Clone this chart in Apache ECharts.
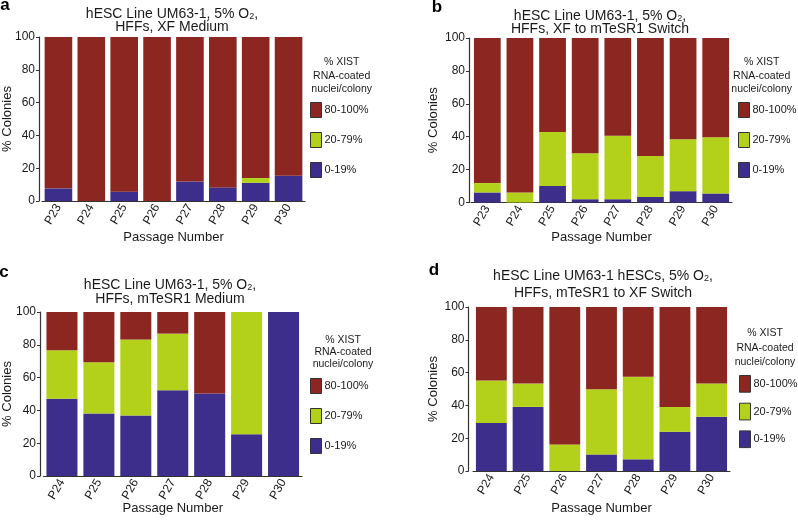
<!DOCTYPE html>
<html><head><meta charset="utf-8">
<script src="https://cdn.jsdelivr.net/npm/echarts@6/dist/echarts.min.js"></script>
<style>html,body{margin:0;padding:0;background:#fff}#c{width:798px;height:520px}</style>
</head><body><div id="c"></div>
<script>
// ---------- data ----------
const legendNames = ['80-100%', '20-79%', '0-19%'];
const yTicks = [0, 20, 40, 60, 80, 100];

const catsA = ['P23','P24','P25','P26','P27','P28','P29','P30'];
const lowA  = [7.7, 0, 5.7, 0, 11.9, 8.3, 11.1, 15.4];
const midA  = [0, 0, 0, 0, 0, 0, 2.9, 0];
const highA = [92.3, 100, 94.3, 100, 88.1, 91.7, 86.0, 84.6];

const catsB = ['P23','P24','P25','P26','P27','P28','P29','P30'];
const lowB  = [6.1, 0, 10.1, 2.0, 2.0, 3.4, 6.9, 5.5];
const midB  = [5.7, 6.1, 32.7, 28.0, 38.6, 24.8, 31.6, 34.1];
const highB = [88.2, 93.9, 57.2, 70.0, 59.4, 71.8, 61.5, 60.4];

const catsC = ['P24','P25','P26','P27','P28','P29','P30'];
const lowC  = [47.1, 38.1, 36.9, 52.3, 50.3, 25.4, 100];
const midC  = [29.6, 31.3, 46.3, 34.5, 0, 74.6, 0];
const highC = [23.3, 30.6, 16.8, 13.2, 49.7, 0, 0];

const catsD = ['P24','P25','P26','P27','P28','P29','P30'];
const lowD  = [29.2, 39.1, 0, 10.1, 7.1, 23.9, 33.1];
const midD  = [26.0, 14.2, 16.2, 39.8, 50.3, 15.2, 20.2];
const highD = [44.8, 46.7, 83.8, 50.1, 42.6, 60.9, 46.7];

const titlesA = ['hESC Line UM63-1, 5% O', 'HFFs, XF Medium'];
const titlesB = ['hESC Line UM63-1, 5% O', 'HFFs, XF to mTeSR1 Switch'];
const titlesC = ['hESC Line UM63-1, 5% O', 'HFFs, mTeSR1 Medium'];
const titlesD = ['hESC Line UM63-1 hESCs, 5% O', 'HFFs, mTeSR1 to XF Switch'];
const legendHead = ['% XIST', 'RNA-coated', 'nuclei/colony'];
const xName = 'Passage Number';
const yName = '% Colonies';

// ---------- style / layout ----------
const RED = '#8B2621', GREEN = '#B3D11A', BLUE = '#3D2E8B';
const FONT = "'Liberation Sans', Arial, Helvetica, sans-serif";
const TXT = '#1a1a1a';

const panels = [
  {letter:'a', cats:catsA, low:lowA, mid:midA, high:highA, titles:titlesA,
   grid:{left:42, top:37, width:263, height:164}, yOff:3, gap:'16%', xGap:30, yGap:25,
   letterPos:[5,5], titlePos:[172,13,27], legend:{left:310, top:102, h:15, g:14}, head:[341.7,[62,75.7,89]]},
  {letter:'b', cats:catsB, low:lowB, mid:midB, high:highB, titles:titlesB,
   grid:{left:471, top:38, width:261, height:164.5}, yOff:2, gap:'18%', xGap:28, yGap:29,
   letterPos:[437,7.5], titlePos:[600,15,29], legend:{left:738, top:102, h:15, g:14}, head:[761.7,[62,75.7,89]]},
  {letter:'c', cats:catsC, low:lowC, mid:midC, high:highC, titles:titlesC,
   grid:{left:43, top:312, width:259, height:164}, yOff:3.5, gap:'16%', xGap:26, yGap:26,
   letterPos:[4,272], titlePos:[170,284,299.3], legend:{left:310, top:378, h:15, g:14}, head:[343,[340,352,364.3]]},
  {letter:'d', cats:catsD, low:lowD, mid:midD, high:highD, titles:titlesD,
   grid:{left:473, top:307, width:257, height:164}, yOff:4.5, gap:'16%', xGap:31, yGap:29,
   letterPos:[434,270], titlePos:[603,275,293], legend:{left:739, top:375, h:16.7, g:10}, head:[765,[332.7,348,362]]}
];

const grid = [], xAxis = [], yAxis = [], series = [], legend = [], graphic = [];
panels.forEach((p, i) => {
  grid.push(Object.assign({containLabel:false}, p.grid));
  xAxis.push({
    type:'category', gridIndex:i, data:p.cats,
    name:xName, nameLocation:'middle', nameGap:p.xGap, nameMoveOverlap:false,
    nameTextStyle:{fontSize:13, fontFamily:FONT, color:TXT},
    axisLine:{lineStyle:{color:'#333', width:1.2}}, axisTick:{show:false},
    axisLabel:{rotate:60, fontSize:12, fontFamily:FONT, color:TXT, margin:4}
  });
  yAxis.push({
    type:'value', gridIndex:i, min:yTicks[0], max:yTicks[yTicks.length-1], interval:20, offset:p.yOff,
    name:yName, nameLocation:'middle', nameGap:p.yGap, nameRotate:90, nameMoveOverlap:false,
    nameTextStyle:{fontSize:13, fontFamily:FONT, color:TXT},
    axisLine:{show:true, lineStyle:{color:'#333', width:1.2}},
    axisTick:{show:true, length:3, lineStyle:{color:'#333'}},
    splitLine:{show:false},
    axisLabel:{fontSize:12, fontFamily:FONT, color:TXT, margin:4}
  });
  const mk = (name, data, color) => ({
    type:'bar', name, xAxisIndex:i, yAxisIndex:i, stack:'s'+i, data,
    barCategoryGap:p.gap, itemStyle:{color}, silent:true, animation:false
  });
  series.push(mk('0-19%', p.low, BLUE), mk('20-79%', p.mid, GREEN), mk('80-100%', p.high, RED));
  legend.push({
    orient:'vertical', left:p.legend.left, top:p.legend.top, padding:0,
    itemWidth:11, itemHeight:p.legend.h, itemGap:p.legend.g, selectedMode:false,
    data:legendNames, icon:'rect',
    itemStyle:{borderColor:'#333', borderWidth:1},
    textStyle:{fontSize:11, fontFamily:FONT, color:TXT, padding:[0,0,0,-2]}
  });
  graphic.push({type:'text', x:p.letterPos[0], y:p.letterPos[1],
    style:{text:p.letter, fontSize:17, fontWeight:'bold', fontFamily:FONT, fill:'#000', align:'center', verticalAlign:'middle'}});
  graphic.push({type:'text', x:p.titlePos[0], y:p.titlePos[1],
    style:{text:'{t|'+p.titles[0]+'}{s|2}{t|,}', align:'center', verticalAlign:'middle', fill:TXT,
      rich:{t:{fontSize:14, fontFamily:FONT, fill:TXT, lineHeight:16, verticalAlign:'bottom'},
            s:{fontSize:9, fontFamily:FONT, fill:TXT, lineHeight:9, verticalAlign:'bottom'}}}});
  graphic.push({type:'text', x:p.titlePos[0], y:p.titlePos[2],
    style:{text:p.titles[1], fontSize:14, fontFamily:FONT, fill:TXT, align:'center', verticalAlign:'middle'}});
  legendHead.forEach((t, k) => {
    graphic.push({type:'text', x:p.head[0], y:p.head[1][k],
      style:{text:t, fontSize:10.5, fontFamily:FONT, fill:TXT, align:'center', verticalAlign:'middle'}});
  });
});

const chart = echarts.init(document.getElementById('c'), null, {renderer:'canvas'});
chart.setOption({animation:false, backgroundColor:'#fff', grid, xAxis, yAxis, series, legend, graphic});
</script>
</body></html>
